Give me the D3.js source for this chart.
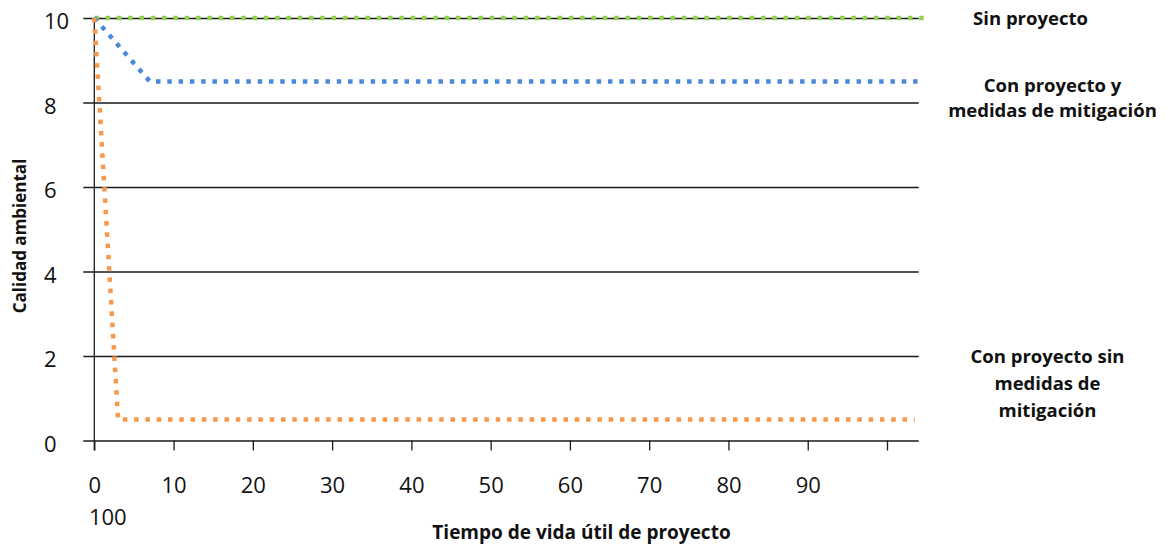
<!DOCTYPE html>
<html>
<head>
<meta charset="utf-8">
<script src="https://cdn.jsdelivr.net/npm/d3@7"></script>
<style>
  html, body { margin: 0; padding: 0; background: #fff; }
  svg { display: block; }
</style>
</head>
<body>
<svg id="chart" width="1167" height="552"></svg>
<script>
// ---- Data ----
const seriesNames = ["Sin proyecto", "Con proyecto y medidas de mitigación", "Con proyecto sin medidas de mitigación"];
const seriesColors = ["#92D050", "#4A89DA", "#F8984A"];
const sinProyectoX = [0, 105];
const sinProyectoY = [10, 10];
const conMitigacionX = [0, 7, 104.5];
const conMitigacionY = [10, 8.5, 8.5];
const sinMitigacionX = [0, 3, 103.5];
const sinMitigacionY = [10, 0.5, 0.5];
const xTickValues = [0, 10, 20, 30, 40, 50, 60, 70, 80, 90, 100];
const xTickLabels = ["0", "10", "20", "30", "40", "50", "60", "70", "80", "90", ""];
const xExtraLabel = "100";
const yTickValues = [0, 2, 4, 6, 8, 10];
const yTickLabels = ["0", "2", "4", "6", "8", "10"];
const xTitle = "Tiempo de vida útil de proyecto";
const yTitle = "Calidad ambiental";
const legendLines = [["Sin proyecto"], ["Con proyecto y", "medidas de mitigación"], ["Con proyecto sin", "medidas de", "mitigación"]];

// ---- Layout ----
const svg = d3.select("#chart");
const x = d3.scaleLinear().domain([0, 100]).range([94.3, 887]);
const xMax = 104;
const y = d3.scaleLinear().domain([0, 10]).range([440.5, 18]);
const tickFont = "'Open Sans', 'Noto Sans', sans-serif";

// gridlines (with left tick extension)
const gridG = svg.append("g").attr("transform", `translate(${x(0) - 11},0)`);
gridG.call(d3.axisLeft(y).tickValues(yTickValues).tickSize(-(x(xMax) - x(0) + 11)).tickFormat(""))
  .call(g => g.select(".domain").remove())
  .call(g => g.selectAll(".tick line").attr("stroke", "#1a1a1a").attr("stroke-width", 1.3));

// y axis line
svg.append("line")
  .attr("x1", x(0)).attr("x2", x(0))
  .attr("y1", y(10)).attr("y2", y(0) + 10)
  .attr("stroke", "#1a1a1a").attr("stroke-width", 1.3);

// x axis ticks
const xAxisG = svg.append("g").attr("transform", `translate(0,${y(0)})`);
xAxisG.call(d3.axisBottom(x).tickValues(xTickValues).tickSize(10).tickSizeOuter(0)
    .tickFormat((d, i) => xTickLabels[i]))
  .call(g => g.select(".domain").remove())
  .call(g => g.selectAll(".tick line").attr("stroke", "#1a1a1a").attr("stroke-width", 1.3))
  .call(g => g.selectAll(".tick text")
      .attr("y", 52).attr("dy", 0)
      .attr("font-family", tickFont).attr("font-size", 22).attr("fill", "#111"));
xAxisG.selectAll(".tick").filter(d => d === 0)
  .append("text")
  .attr("x", 13).attr("y", 84)
  .attr("text-anchor", "middle")
  .attr("font-family", tickFont).attr("font-size", 22).attr("fill", "#111")
  .text(xExtraLabel);

// y tick labels (left aligned)
svg.append("g").selectAll("text").data(yTickValues).join("text")
  .attr("x", 44)
  .attr("y", d => y(d) + 11)
  .attr("font-family", tickFont).attr("font-size", 22).attr("fill", "#111")
  .text((d, i) => yTickLabels[i]);

// series
const line = d3.line().x(d => x(d[0])).y(d => y(d[1]));
const seriesData = [
  d3.zip(sinProyectoX, sinProyectoY),
  d3.zip(conMitigacionX, conMitigacionY),
  d3.zip(sinMitigacionX, sinMitigacionY)
];
svg.append("g").selectAll("path").data(seriesData).join("path")
  .attr("d", line)
  .attr("fill", "none")
  .attr("stroke", (d, i) => seriesColors[i])
  .attr("stroke-width", 4.5)
  .attr("stroke-dasharray", "4.5,6.8")
  .attr("stroke-linecap", "butt");

// axis titles
svg.append("text")
  .attr("x", 581.5).attr("y", 539)
  .attr("text-anchor", "middle")
  .attr("font-family", tickFont).attr("font-weight", "bold").attr("font-size", 19).attr("fill", "#111")
  .text(xTitle);
svg.append("text")
  .attr("transform", "translate(26,236) rotate(-90)")
  .attr("text-anchor", "middle")
  .attr("font-family", tickFont).attr("font-weight", "bold").attr("font-size", 17).attr("fill", "#111")
  .text(yTitle);

// series labels
const legendPos = [{cx: 1030.5, y0: 25}, {cx: 1052.5, y0: 92}, {cx: 1047.5, y0: 363}];
const lineH = [25, 25, 27];
legendLines.forEach((lines, i) => {
  const t = svg.append("text")
    .attr("text-anchor", "middle")
    .attr("font-family", tickFont).attr("font-weight", "bold").attr("font-size", 18.5).attr("fill", "#111");
  lines.forEach((s, j) => {
    t.append("tspan").attr("x", legendPos[i].cx).attr("y", legendPos[i].y0 + j * lineH[i]).text(s);
  });
});
</script>
</body>
</html>
